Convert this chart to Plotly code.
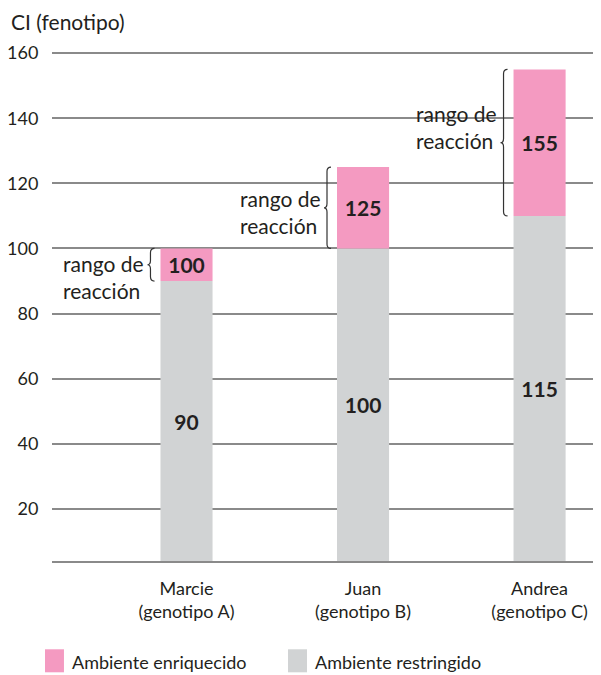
import plotly.graph_objects as go

# ---- data ----
people = ["Marcie", "Juan", "Andrea"]
genotypes = ["(genotipo A)", "(genotipo B)", "(genotipo C)"]
restricted = [90, 100, 110]          # drawn height of grey bars
restricted_labels = ["90", "100", "115"]
enriched = [100, 125, 155]
enriched_labels = ["100", "125", "155"]
y_ticks = [20, 40, 60, 80, 100, 120, 140, 160]
axis_min = 4
axis_max = 162.5

PINK = "#f49ac1"
GREY = "#d1d3d4"
GRID = "#8a8a8a"
TXT = "#231f20"
FONT = "Lato"

xs = list(range(len(people)))
bar_w = 0.295

fig = go.Figure()
fig.add_trace(go.Bar(
    x=xs, y=[r - axis_min for r in restricted], base=[axis_min] * 3,
    width=bar_w, marker=dict(color=GREY, line=dict(width=0)),
    text=restricted_labels, textposition="inside", insidetextanchor="middle",
    textangle=0, textfont=dict(family=FONT, size=21, color=TXT, weight="bold"),
    name="Ambiente restringido", showlegend=False, hoverinfo="skip"))
fig.add_trace(go.Bar(
    x=xs, y=[e - r for e, r in zip(enriched, restricted)], base=restricted,
    width=bar_w, marker=dict(color=PINK, line=dict(width=0)),
    text=enriched_labels, textposition="inside", insidetextanchor="middle",
    textangle=0, textfont=dict(family=FONT, size=21, color=TXT, weight="bold"),
    name="Ambiente enriquecido", showlegend=False, hoverinfo="skip"))

shapes = []
annotations = []

# braces + "rango de reacción" labels
half = bar_w / 2
px = 1 / 176.5
for i, (r, e) in enumerate(zip(restricted, enriched)):
    bl = i - half
    xr = bl - 6 * px
    xm = bl - 10 * px
    xt = bl - 13 * px
    rad = 1.3
    ym = (r + e) / 2
    path = (f"M {xr},{e} Q {xm},{e} {xm},{e - rad} "
            f"L {xm},{ym + rad} Q {xm},{ym} {xt},{ym} "
            f"Q {xm},{ym} {xm},{ym - rad} "
            f"L {xm},{r + rad} Q {xm},{r} {xr},{r}")
    shapes.append(dict(type="path", path=path, xref="x", yref="y",
                       line=dict(color="#333333", width=1.2), layer="above"))

label_y = [91.3, 111.2, 137.4]
for i, ly in enumerate(label_y):
    annotations.append(dict(
        x=i - 0.703, y=ly, xref="x", yref="y", xanchor="left", yanchor="middle",
        text="rango de<br>reacción", showarrow=False, align="left",
        font=dict(family=FONT, size=21, color=TXT), borderpad=0))

# 140 gridline: hidden behind the Andrea label, dark next to the bar
shapes.append(dict(type="line", xref="paper", yref="y", x0=0.643, x1=0.8124,
                   y0=140, y1=140, line=dict(color="white", width=4),
                   layer="between"))
shapes.append(dict(type="line", xref="paper", yref="y", x0=0.8124, x1=1,
                   y0=140, y1=140, line=dict(color="#231f20", width=1.5),
                   layer="between"))

# title
annotations.append(dict(x=-0.0765, y=1.0465, xref="paper", yref="paper",
                        xanchor="left", yanchor="middle", text="CI (fenotipo)",
                        showarrow=False, borderpad=0,
                        font=dict(family=FONT, size=21, color=TXT)))

# legend
leg = [("Ambiente enriquecido", PINK, -0.0128), ("Ambiente restringido", GREY, 0.4299)]
for name, col, x0 in leg:
    shapes.append(dict(type="rect", xref="paper", yref="paper",
                       x0=x0, x1=x0 + 0.0346, y0=-0.2157, y1=-0.1711,
                       fillcolor=col, line=dict(width=0)))
    annotations.append(dict(x=x0 + 0.0456, y=-0.1951, xref="paper", yref="paper",
                            xanchor="left", yanchor="middle", text=name,
                            showarrow=False, font=dict(family=FONT, size=18, color=TXT)))

# page body has an 8px margin: shrink the figure so it lands on the same pixels
fig.update_layout(
    width=593, height=667,
    margin=dict(l=44, r=0, t=37, b=114),
    paper_bgcolor="white", plot_bgcolor="white",
    barmode="overlay",
    font=dict(family=FONT, size=18, color=TXT),
    shapes=shapes, annotations=annotations,
    uniformtext=dict(minsize=21, mode="show"),
    showlegend=False,
)
fig.update_xaxes(
    range=[-0.762, 2.348], tickvals=xs,
    ticktext=[f"{p}<br>{g}" for p, g in zip(people, genotypes)],
    showgrid=False, zeroline=False, showline=True, linecolor=GRID, linewidth=2,
    ticks="outside", ticklen=10, tickcolor="rgba(0,0,0,0)",
    tickfont=dict(family=FONT, size=18, color=TXT), fixedrange=True)
fig.update_yaxes(
    range=[axis_min, axis_max], tickvals=y_ticks,
    showgrid=True, gridcolor=GRID, gridwidth=2, zeroline=False, showline=False,
    ticks="outside", ticklen=9, tickcolor="rgba(0,0,0,0)",
    tickfont=dict(family=FONT, size=18, color=TXT), fixedrange=True)

fig.write_html("out.html")
